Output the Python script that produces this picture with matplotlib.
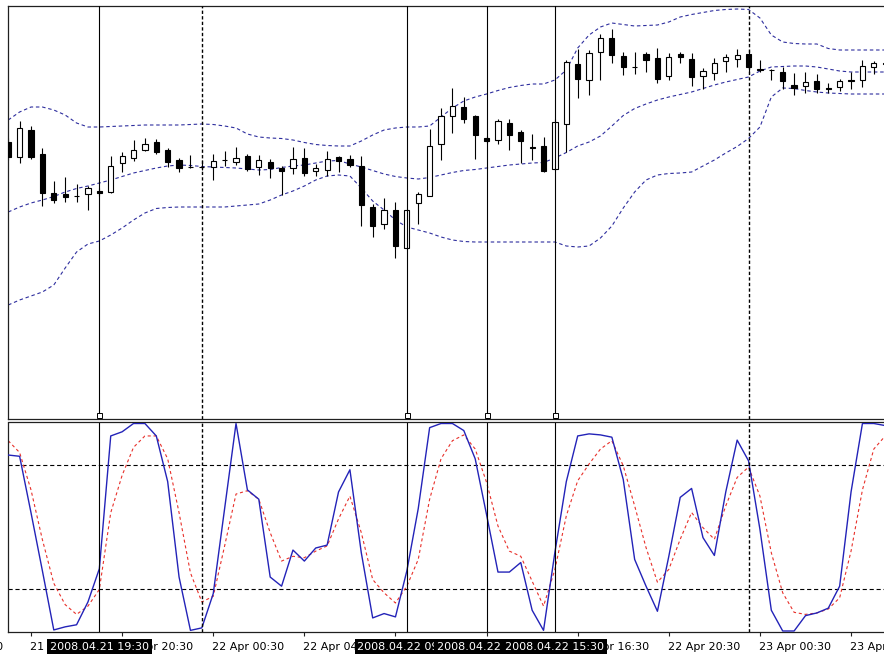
import numpy as np
import matplotlib.pyplot as plt

plt.rcParams['lines.scale_dashes'] = False
plt.rcParams['font.family'] = 'DejaVu Sans'

# EURUSD M30, bars from 21 Apr 2008 15:30
opens = [1.5908, 1.5893, 1.5920, 1.5896, 1.5857, 1.5856, 1.58545, 1.5856, 1.5859, 1.5858,
         1.5887, 1.5892, 1.5900, 1.5908, 1.5900, 1.5890, 1.58835, 1.58835, 1.5883, 1.58895,
         1.5888, 1.5894, 1.5883, 1.58875, 1.58825, 1.5882, 1.5892, 1.5879, 1.5880, 1.5893,
         1.58905, 1.58845, 1.58435, 1.5826, 1.5840, 1.58025, 1.5847, 1.5854, 1.5906, 1.5934,
         1.5943, 1.5934, 1.59125, 1.5910, 1.5927, 1.5918, 1.5903, 1.5904, 1.58815, 1.5926,
         1.5986, 1.5970, 1.59985, 1.60125, 1.5994, 1.59835, 1.5996, 1.59925, 1.5974, 1.5996,
         1.59915, 1.59745, 1.59775, 1.59885, 1.5991, 1.59965, 1.5981, 1.5980, 1.59785, 1.5965,
         1.5964, 1.59685, 1.5962, 1.5963, 1.5970, 1.5970, 1.5983, 1.5987]
highs = [1.5912, 1.5929, 1.5924, 1.5902, 1.5869, 1.5873, 1.5866, 1.5864, 1.5862, 1.5894,
         1.5898, 1.5910, 1.5912, 1.5911, 1.5902, 1.5892, 1.5895, 1.5890, 1.5896, 1.5899,
         1.5903, 1.58965, 1.58955, 1.5891, 1.58845, 1.5903, 1.5902, 1.5886, 1.5899, 1.5894,
         1.58955, 1.5894, 1.5846, 1.58515, 1.58475, 1.5841, 1.58585, 1.59215, 1.5942, 1.5962,
         1.5953, 1.5935, 1.5914, 1.59315, 1.59305, 1.59205, 1.5916, 1.59135, 1.5931, 1.5990,
         1.60015, 1.6000, 1.60165, 1.60215, 1.59985, 1.59985, 1.59985, 1.60025, 1.59975, 1.59985,
         1.59975, 1.5982, 1.59925, 1.59965, 1.60015, 1.6000, 1.5990, 1.5981, 1.59835, 1.59775,
         1.59785, 1.59765, 1.59675, 1.59715, 1.59785, 1.5990, 1.59885, 1.5992]
lows = [1.5890, 1.5887, 1.5891, 1.5844, 1.5847, 1.5848, 1.5848, 1.5840, 1.5854, 1.5857,
        1.5878, 1.5889, 1.5899, 1.5896, 1.5883, 1.5878, 1.5882, 1.5880, 1.5870, 1.5884,
        1.5885, 1.5879, 1.5875, 1.5872, 1.5855, 1.5876, 1.5874, 1.5874, 1.5874, 1.58785,
        1.5883, 1.5824, 1.5813, 1.58215, 1.57915, 1.5801, 1.5826, 1.5854, 1.5890, 1.5917,
        1.5927, 1.5891, 1.5907, 1.5906, 1.5900, 1.5887, 1.5890, 1.58785, 1.5880, 1.5898,
        1.5952, 1.5955, 1.5970, 1.5987, 1.5975, 1.5976, 1.59785, 1.5967, 1.5970, 1.59875,
        1.5964, 1.5961, 1.5970, 1.59785, 1.59835, 1.59785, 1.59785, 1.5970, 1.5961, 1.5955,
        1.59575, 1.59575, 1.59575, 1.59595, 1.5961, 1.5963, 1.5976, 1.5980]
closes = [1.5893, 1.5922, 1.5893, 1.5857, 1.5850, 1.5853, 1.5854, 1.5862, 1.5857, 1.5884,
          1.5894, 1.5900, 1.5906, 1.5898, 1.5888, 1.5882, 1.5883, 1.5883, 1.5889, 1.5890,
          1.5892, 1.5881, 1.5890, 1.58815, 1.58785, 1.5891, 1.5877, 1.5882, 1.5891, 1.58885,
          1.5885, 1.5845, 1.5824, 1.5840, 1.5804, 1.5840, 1.5856, 1.5904, 1.5934, 1.5944,
          1.5931, 1.5915, 1.59085, 1.59285, 1.5915, 1.59085, 1.59025, 1.58795, 1.5928, 1.5988,
          1.5971, 1.5997, 1.60115, 1.5995, 1.5983, 1.5983, 1.59895, 1.5971, 1.59925, 1.59925,
          1.5973, 1.59795, 1.5987, 1.59925, 1.5995, 1.59835, 1.59805, 1.59795, 1.59685, 1.5962,
          1.5968, 1.5961, 1.59615, 1.5969, 1.59685, 1.5984, 1.59875, 1.59865]

# Bollinger Bands (20, 2)
bb_upper = [1.5930, 1.5938, 1.5943, 1.5943, 1.5940, 1.5935, 1.5927, 1.5923, 1.5923, 1.59235,
            1.5924, 1.59245, 1.5925, 1.5925, 1.5925, 1.5925, 1.59255, 1.5926, 1.59255, 1.5924,
            1.5922, 1.5916, 1.5913, 1.5912, 1.59115, 1.5910, 1.59075, 1.59055, 1.59045, 1.5904,
            1.5904, 1.5909, 1.5915, 1.5920, 1.5922, 1.5923, 1.5923, 1.5924, 1.5933, 1.5942,
            1.5949, 1.5953, 1.5956, 1.59595, 1.59625, 1.59645, 1.5966, 1.5966, 1.5970, 1.5980,
            1.6002, 1.6015, 1.6023, 1.6027, 1.60255, 1.6024, 1.60245, 1.6025, 1.6028, 1.6033,
            1.60355, 1.60375, 1.60395, 1.60405, 1.6041, 1.60405, 1.6032, 1.6015, 1.6008, 1.60065,
            1.6006, 1.6006, 1.60015, 1.6000, 1.6000, 1.6000, 1.6000, 1.6000]
bb_mid = [1.5838, 1.5843, 1.5847, 1.5850, 1.58535, 1.5858, 1.58615, 1.5864, 1.5867, 1.5870,
          1.58735, 1.5877, 1.58795, 1.5882, 1.5884, 1.5885, 1.58845, 1.58835, 1.5883, 1.58825,
          1.5882, 1.5881, 1.5880, 1.58805, 1.58825, 1.5884, 1.5885, 1.5887, 1.5889, 1.58895,
          1.5886, 1.5883, 1.58795, 1.5876, 1.58735, 1.5872, 1.5871, 1.58725, 1.5875, 1.58775,
          1.58795, 1.58805, 1.5882, 1.58835, 1.5885, 1.5886, 1.5887, 1.58875, 1.5892, 1.58975,
          1.5904, 1.5908, 1.5914, 1.5924, 1.59345, 1.59415, 1.5946, 1.5950, 1.5953, 1.59555,
          1.5958, 1.59615, 1.5965, 1.5968, 1.59705, 1.5973, 1.5979, 1.5983, 1.59835, 1.5984,
          1.5984, 1.5983, 1.5981, 1.5979, 1.5978, 1.5978, 1.5978, 1.5978]
bb_lower = [1.5745, 1.5750, 1.5754, 1.5758, 1.5765, 1.5782, 1.5798, 1.5806, 1.5809, 1.5815,
            1.5822, 1.5830, 1.5837, 1.58415, 1.58425, 1.5843, 1.5843, 1.5843, 1.5843, 1.5843,
            1.5844, 1.5845, 1.5846, 1.5850, 1.5855, 1.5859, 1.5864, 1.5870, 1.5874, 1.5875,
            1.5874, 1.5862, 1.5849, 1.5840, 1.5830, 1.5823, 1.5820, 1.5817, 1.5813, 1.5810,
            1.58085, 1.5808, 1.5808, 1.5808, 1.5808, 1.5808, 1.5808, 1.5808, 1.5808, 1.5804,
            1.5803, 1.5804, 1.5812, 1.5824, 1.5842, 1.5858, 1.5870, 1.5875, 1.58765, 1.5877,
            1.5878, 1.5884, 1.5890, 1.5897, 1.59035, 1.59115, 1.5923, 1.5953, 1.5962, 1.59615,
            1.59595, 1.5958, 1.5957, 1.59565, 1.5956, 1.5956, 1.5956, 1.5956]

# Stochastic %K / %D
stoch_k = [84.8, 84.2, 57, 29, 0.5, 2, 3, 14, 30, 94,
           96, 100, 100, 94, 72, 26, 0.3, 1.5, 18, 59,
           100, 68, 63.5, 26, 21.6, 39, 33.7, 40, 41.4, 67,
           77.7, 37.7, 6.3, 8.4, 6.8, 29, 59, 98, 100, 100,
           96.6, 83, 56, 28.4, 28.4, 33, 10, 0.3, 38, 72,
           94, 95, 94.5, 93.4, 73, 34.5, 21.6, 9.5, 36, 64.4,
           68.7, 45, 36.4, 67, 92, 82, 49, 10, 0, 0,
           7.4, 8.7, 11, 21.6, 67, 100, 100, 99]
stoch_d = [91.7, 86, 68, 44, 23, 12.7, 8, 12, 20, 57,
           75, 88.5, 94, 94, 83, 57, 28, 14, 16.7, 41,
           66, 67.6, 63.5, 47.4, 33.7, 36, 35.3, 38.5, 41, 54,
           65, 47.4, 24.8, 18.4, 13.5, 21.6, 34.5, 63.5, 83, 91.7,
           94.5, 87.7, 71.6, 50.6, 38.5, 36, 24, 12, 29.7, 55.5,
           72.4, 80.5, 87.7, 91.7, 79.6, 60.3, 40.2, 23.5, 29.7, 44.2,
           57.1, 49.8, 44.2, 60.3, 74, 79, 65, 37.7, 18.4, 9,
           8, 8.7, 10.6, 16, 38.5, 68, 87.7, 94]
stoch_levels = [80, 20]

# vertical lines (bar index) and their time labels
vline_bars = [8, 35, 42, 48]
vline_labels = ['2008.04.21 19:30', '2008.04.22 09:00', '2008.04.22 12:30', '2008.04.22 15:30']
day_bars = [17, 65]
tick_bars = [2, 10, 18, 26, 34, 42, 50, 58, 66, 74]
tick_labels = ['21 Apr 16:30', '21 Apr 20:30', '22 Apr 00:30', '22 Apr 04:30', '22 Apr 08:30',
               '22 Apr 12:30', '22 Apr 16:30', '22 Apr 20:30', '23 Apr 00:30', '23 Apr 04:30']

x = np.arange(len(opens))
o = np.array(opens)
c = np.array(closes)

W, H = 884, 657
fig = plt.figure(figsize=(W / 100, H / 100), dpi=100)
ax = fig.add_axes([8 / W, 1 - 419 / H, 882 / W, 413 / H])
ax2 = fig.add_axes([8 / W, 1 - 632.3 / H, 882 / W, 209.8 / H])

for a in (ax, ax2):
    a.set_xlim(-0.02, 77.42)
    a.set_yticks([])
    a.spines['right'].set_visible(False)
    for s in ('left', 'top', 'bottom'):
        a.spines[s].set_linewidth(0.9)
        a.spines[s].set_color('#202020')
    for b in vline_bars:
        a.axvline(b, color='black', lw=0.8, zorder=4)
    for b in day_bars:
        a.axvline(b, color='black', lw=1.0, ls=(0, (2.4, 1.6)), zorder=4)

# price panel
ax.set_ylim(1.5631, 1.6044)
ax.set_xticks([])
ax.vlines(x, lows, highs, color='black', lw=0.8, zorder=2)
up = c >= o
ax.bar(x[up], (c - o)[up], bottom=o[up], width=0.46, facecolor='white',
       edgecolor='black', linewidth=0.8, zorder=3)
ax.bar(x[~up], (c - o)[~up], bottom=o[~up], width=0.46, facecolor='black',
       edgecolor='black', linewidth=0.8, zorder=3)
for band in (bb_upper, bb_mid, bb_lower):
    ax.plot(x, band, color='#2e2e9e', lw=0.8, ls=(0, (2.5, 2.0)), zorder=1)
ax.plot(vline_bars, [0.0085] * len(vline_bars), ls='none', marker='s', ms=3.6,
        mfc='white', mec='black', mew=0.7, transform=ax.get_xaxis_transform(),
        clip_on=False, zorder=5)

# stochastic panel
ax2.set_ylim(-0.63, 100.48)
for lv in stoch_levels:
    ax2.axhline(lv, color='black', lw=0.8, ls=(0, (3.0, 2.0)), zorder=1)
ax2.plot(x, stoch_d, color='#e8302a', lw=0.8, ls=(0, (2.2, 2.0)), zorder=2)
ax2.plot(x, stoch_k, color='#2323b8', lw=1.0, zorder=3)

ax2.set_xticks(tick_bars)
ax2.tick_params(axis='x', direction='out', length=3, width=0.8, color='#202020',
                labelbottom=False)
ybase = -0.082
for b, lab in zip(tick_bars, tick_labels):
    ax2.text(b - 0.08, ybase, lab, transform=ax2.get_xaxis_transform(), ha='left',
             va='baseline', fontsize=8, color='black', zorder=5)
# label of the tick just left of the window, mostly cut off
ax2.text(-0.42, ybase, '21 Apr 12:30', transform=ax2.get_xaxis_transform(), ha='right',
         va='baseline', fontsize=8, color='black', zorder=5)
for i, (b, lab) in enumerate(zip(vline_bars, vline_labels)):
    ax2.text(b, ybase, lab, transform=ax2.get_xaxis_transform(), ha='center',
             va='baseline', fontsize=8, color='white', zorder=6 + i,
             bbox=dict(boxstyle='square,pad=0.25', facecolor='black', edgecolor='none'))

fig.savefig('out.png', dpi=100)
